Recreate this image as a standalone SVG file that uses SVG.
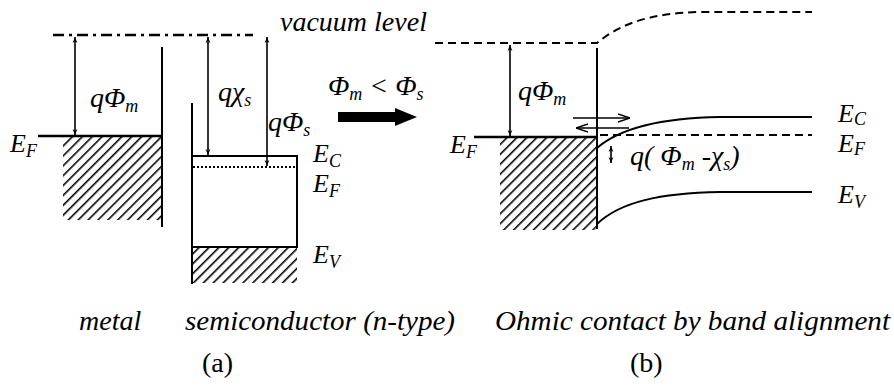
<svg xmlns="http://www.w3.org/2000/svg" width="894" height="389" viewBox="0 0 894 389">
<style>
.ln{stroke:#000;stroke-width:2;fill:none}
.thk{stroke:#000;stroke-width:2.6;fill:none}
.dd{stroke:#000;stroke-width:2.5;fill:none;stroke-dasharray:11,5,3,5}
.dsh{stroke:#000;stroke-width:2;fill:none;stroke-dasharray:8,5}
.dot{stroke:#000;stroke-width:2;fill:none;stroke-dasharray:2,2}
.arr{stroke:#000;stroke-width:1.6;fill:none;marker-start:url(#ah);marker-end:url(#ah)}
.harr{stroke:#000;stroke-width:1.6;fill:none;marker-end:url(#oh)}
.it{font-family:"Liberation Serif",serif;font-style:italic;font-size:28px;fill:#000}
.lb{font-family:"Liberation Serif",serif;font-style:italic;font-size:26px;fill:#000}
.rm{font-family:"Liberation Serif",serif;font-size:28px;fill:#000}
.sub{font-size:18px}
.hat{fill:url(#hatch)}
</style>
<defs>
<pattern id="hatch" patternUnits="userSpaceOnUse" width="7" height="7" patternTransform="rotate(45)">
<line x1="0" y1="0" x2="0" y2="7" stroke="#000" stroke-width="3.2"/>
</pattern>
<marker id="ah" viewBox="0 0 10 10" refX="10" refY="5" markerWidth="6" markerHeight="6" orient="auto-start-reverse" markerUnits="userSpaceOnUse">
<path d="M0,1 L10,5 L0,9 L3,5 Z" fill="#000"/>
</marker>
<marker id="oh" viewBox="0 0 12 10" refX="12" refY="5" markerWidth="12" markerHeight="10" orient="auto" markerUnits="userSpaceOnUse">
<path d="M0,1 L12,5 L0,9" fill="none" stroke="#000" stroke-width="1.4"/>
</marker>
</defs>

<!-- (a) metal -->
<g id="metal">
<rect class="hat" x="63" y="137" width="99" height="83"/>
<line class="thk" x1="38" y1="136" x2="162" y2="136"/>
<line class="ln" x1="162" y1="47" x2="162" y2="227"/>
<text class="lb" x="10" y="152">E<tspan class="sub" dy="5">F</tspan></text>
</g>

<g id="vacuum-a">
<line class="dd" x1="53" y1="35" x2="253" y2="35"/>
<text class="it" x="280" y="31">vacuum level</text>
</g>

<!-- (a) semiconductor -->
<g id="semiconductor">
<rect class="hat" x="193" y="247" width="104" height="36"/>
<line class="ln" x1="192" y1="103" x2="192" y2="284"/>
<line class="ln" x1="192" y1="156" x2="297" y2="156"/>
<line class="ln" x1="297" y1="155" x2="297" y2="248"/>
<line class="ln" x1="192" y1="247" x2="297" y2="247"/>
<line class="dot" x1="193" y1="167" x2="297" y2="167"/>
<text class="lb" x="313" y="162">E<tspan class="sub" dy="5">C</tspan></text>
<text class="lb" x="313" y="192">E<tspan class="sub" dy="5">F</tspan></text>
<text class="lb" x="313" y="263">E<tspan class="sub" dy="5">V</tspan></text>
</g>

<g id="transition">
<text class="it" x="328" y="95">Φ<tspan class="sub" dy="5">m</tspan><tspan dy="-5"> &lt; Φ</tspan><tspan class="sub" dy="5">s</tspan></text>
<path d="M338,112 L395,112 L395,108 L417,117 L395,126 L395,122 L338,122 Z" fill="#000"/>
</g>

<!-- (b) contact -->
<g id="contact-metal">
<rect class="hat" x="500" y="138" width="97" height="92"/>
<line class="thk" x1="474" y1="137" x2="597" y2="137"/>
<line class="ln" x1="597" y1="48" x2="597" y2="229"/>
<text class="lb" x="450" y="153">E<tspan class="sub" dy="5">F</tspan></text>
</g>

<g id="contact-bands">
<path class="dsh" d="M435,43 L597,43 C620,24 650,13 700,12 L812,12"/>
<path class="ln" d="M597,148 C620,128 660,118 720,117 L812,117"/>
<line class="dsh" x1="600" y1="135" x2="812" y2="135"/>
<path class="ln" d="M597,224 C620,202 660,193 720,192 L812,192"/>
<text class="lb" x="838" y="122">E<tspan class="sub" dy="3">C</tspan></text>
<text class="lb" x="838" y="152">E<tspan class="sub" dy="3">F</tspan></text>
<text class="lb" x="838" y="203">E<tspan class="sub" dy="5">V</tspan></text>
</g>

<!-- connectors / energy arrows -->
<g id="connectors">
<line class="arr" x1="75" y1="37" x2="75" y2="135"/>
<line class="arr" x1="208" y1="37" x2="208" y2="155"/>
<line class="arr" x1="267" y1="37" x2="267" y2="166"/>
<line class="arr" x1="510" y1="45" x2="510" y2="136"/>
<line class="arr" x1="611" y1="146" x2="611" y2="163"/>
<line class="harr" x1="573" y1="118" x2="630" y2="118"/>
<line class="harr" x1="629" y1="128" x2="576" y2="128"/>
</g>

<g id="labels">
<text class="it" x="90" y="107">qΦ<tspan class="sub" dy="5">m</tspan></text>
<text class="it" x="218" y="101">qχ<tspan class="sub" dy="5">s</tspan></text>
<text class="it" x="268" y="131">qΦ<tspan class="sub" dy="5">s</tspan></text>
<text class="it" x="518" y="100">qΦ<tspan class="sub" dy="5">m</tspan></text>
<text class="it" x="630" y="165">q( Φ<tspan class="sub" dy="5">m</tspan><tspan dy="-5"> -χ</tspan><tspan class="sub" dy="5">s</tspan><tspan dy="-5">)</tspan></text>
<text class="it" x="79" y="330">metal</text>
<text class="it" x="185" y="330" textLength="270" lengthAdjust="spacingAndGlyphs">semiconductor (n-type)</text>
<text class="it" x="495" y="330" textLength="395" lengthAdjust="spacingAndGlyphs">Ohmic contact by band alignment</text>
<text class="rm" x="202" y="372">(a)</text>
<text class="rm" x="630" y="372">(b)</text>
</g>
</svg>
